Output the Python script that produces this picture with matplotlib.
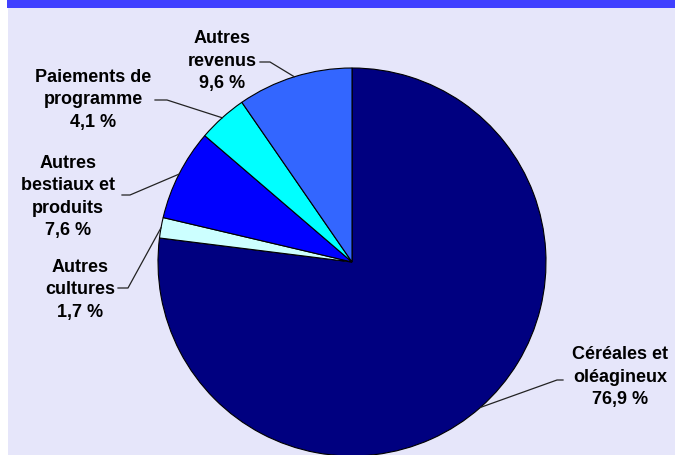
import matplotlib
matplotlib.use("Agg")
import matplotlib.pyplot as plt
import numpy as np
from matplotlib.patches import Rectangle

categories = ["Céréales et\noléagineux", "Autres\ncultures", "Autres\nbestiaux et\nproduits",
              "Paiements de\nprogramme", "Autres\nrevenus"]
values = [76.9, 1.7, 7.6, 4.1, 9.6]
colors = ["#000080", "#CCFFFF", "#0000FF", "#00FFFF", "#3366FF"]

W, H = 675, 455
fig = plt.figure(figsize=(6.75, 4.55), dpi=100)
fig.patch.set_facecolor("white")
ax = fig.add_axes([0, 0, 1, 1])

# background panel and top band
ax.add_patch(Rectangle((8, 0), W - 8, H - 8, facecolor="#E6E6FA", edgecolor="none", zorder=0))
ax.add_patch(Rectangle((7, H - 8), W - 7, 8, facecolor="#4040FF", edgecolor="none", zorder=0))

cx, cy, R = 352, H - 262, 194
wedges, _ = ax.pie(values, colors=colors, startangle=90, counterclock=False,
                   center=(cx, cy), radius=R, normalize=True,
                   wedgeprops=dict(edgecolor="black", linewidth=0.8), frame=True)
ax.set_xlim(0, W)
ax.set_ylim(0, H)
ax.set_aspect("equal")
ax.axis("off")

# label layout (image pixel coords): text center, leader start, leader knee
text_pos = [(620, 377), (80, 290), (68, 197), (93, 100), (222, 61)]
leader_start = [(563, 380), (118, 288), (122, 195), (155, 100), (260, 62)]
leader_knee = [(557, 380), (128, 288), (130, 195), (167, 100), (270, 62)]

for w, cat, val, tp, ls, lk in zip(wedges, categories, values, text_pos, leader_start, leader_knee):
    lab = cat + "\n" + f"{val:.1f}".replace(".", ",") + " %"
    ax.text(tp[0], H - tp[1], lab, ha="center", va="center", multialignment="center",
            fontsize=13, fontweight="bold", family="Liberation Sans", color="black",
            linespacing=1.4, zorder=5)
    ang = np.deg2rad((w.theta1 + w.theta2) / 2)
    ex, ey = cx + R * np.cos(ang), cy + R * np.sin(ang)
    ax.plot([ls[0], lk[0], ex], [H - ls[1], H - lk[1], ey], color="#222222", lw=0.9, zorder=4)

fig.savefig("out.png", dpi=100)
